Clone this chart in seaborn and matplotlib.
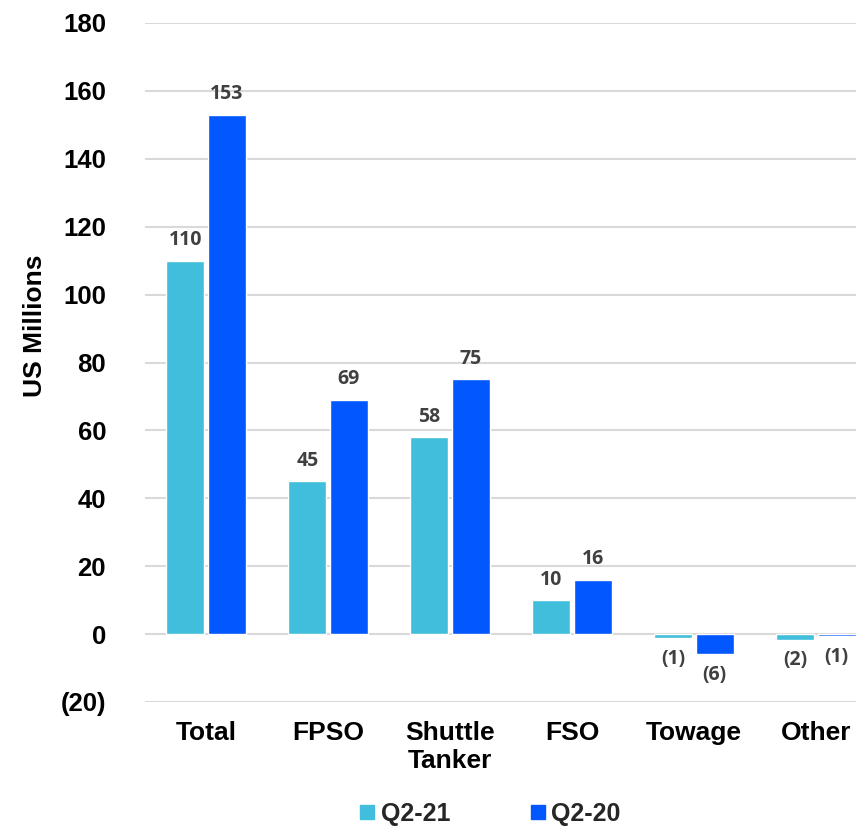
import matplotlib
matplotlib.use("Agg")
import matplotlib.pyplot as plt
from matplotlib.lines import Line2D
import seaborn as sns
import pandas as pd

categories = ["Total", "FPSO", "Shuttle\nTanker", "FSO", "Towage", "Other"]
q2_21 = [110, 45, 58, 10, -1.2, -1.7]
q2_20 = [153, 69, 75, 16, -5.9, -0.6]
series_names = ["Q2-21", "Q2-20"]
colors = ["#41BEDC", "#0257FF"]
y_ticks = [-20, 0, 20, 40, 60, 80, 100, 120, 140, 160, 180]

df = pd.DataFrame({
    "category": categories * 2,
    "value": q2_21 + q2_20,
    "period": [series_names[0]] * len(categories) + [series_names[1]] * len(categories),
})

sns.set_theme(style="white")
plt.rcParams["font.family"] = ["Liberation Sans", "DejaVu Sans"]

fig = plt.figure(figsize=(8.56, 8.27), dpi=100)
ax = fig.add_axes([145 / 856, 1 - 702 / 827, 732 / 856, (702 - 23) / 827])

sns.barplot(data=df, x="category", y="value", hue="period", order=categories,
            hue_order=series_names, palette=colors, width=0.68, gap=0.09,
            saturation=1, legend=False, ax=ax)

def fmt(v):
    r = int(round(abs(v)))
    return f"({r})" if v < 0 else f"{r}"

for cont, vals in zip(ax.containers, [q2_21, q2_20]):
    ax.bar_label(cont, labels=[fmt(v) for v in vals], padding=7.5,
                 fontsize=14, fontweight="bold", color="#404040",
                 family=["Open Sans", "DejaVu Sans"])

ax.set_ylim(-20, 180)
ax.set_xlim(-0.5, len(categories) - 0.5)
ax.set_yticks(y_ticks)
ax.set_yticklabels([f"({-t})" if t < 0 else str(t) for t in y_ticks],
                   fontsize=18.5, fontweight="bold", color="black")
ax.set_xticks(range(len(categories)))
ax.set_xticklabels(categories, fontsize=19, fontweight="bold", color="black",
                   linespacing=1.2)
ax.tick_params(axis="y", length=0, pad=28)
ax.tick_params(axis="x", length=0, pad=14)
ax.yaxis.grid(True, color="#D9D9D9", linewidth=1.5)
ax.set_axisbelow(True)
for s in ax.spines.values():
    s.set_visible(False)
ax.set_xlabel("")
ax.set_ylabel("US Millions", fontsize=19, fontweight="bold", color="black")
ax.yaxis.set_label_coords(-0.134, 0.554)

handles = [Line2D([0], [0], marker="s", linestyle="", markersize=9.5,
                  markerfacecolor=c, markeredgecolor=c) for c in colors]
fig.legend(handles, series_names, loc="center", bbox_to_anchor=(490 / 856, 1 - 814 / 827),
           ncol=2, frameon=False, handletextpad=0.25, columnspacing=3.2,
           prop={"size": 18, "weight": "bold"}, handlelength=0.6)

fig.savefig("out.png", dpi=100)
